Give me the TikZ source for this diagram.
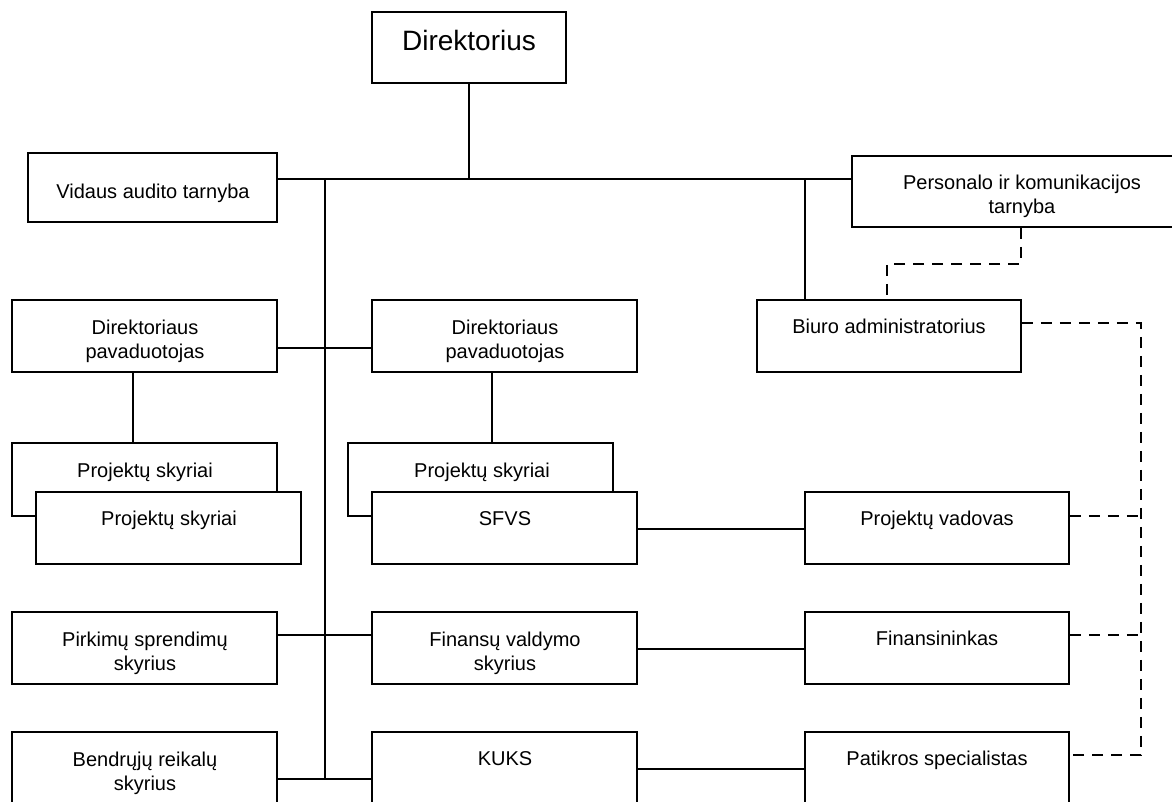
\documentclass[tikz,border=0pt]{standalone}
\usepackage{fontspec}
\setmainfont{Liberation Sans}
\begin{document}
\begin{tikzpicture}[x=1pt,y=-1pt,
  bx/.style={draw=black, line width=1.6pt, fill=white, inner sep=0pt, minimum width=265pt, minimum height=72pt},
  txt/.style={font=\fontsize{20}{24}\selectfont, align=center, inner sep=0pt, text height=14pt, text depth=4pt},
  txtb/.style={font=\fontsize{20}{24}\selectfont, align=center, inner sep=0pt},
  ln/.style={line width=1.6pt},
  dsh/.style={line width=1.6pt, dash pattern=on 11pt off 8pt}]
\useasboundingbox (0,0) rectangle (1172,802);
\clip (0,0) rectangle (1172,802);
% boxes
\node[bx, minimum width=194pt, minimum height=71pt] (dir) at (469,47.5) {};
\node[bx, minimum width=249pt, minimum height=69pt] (vid) at (152.5,187.5) {};
\node[bx, minimum width=340pt, minimum height=71pt] (pers) at (1022,191.5) {};
\node[bx, minimum width=264pt] (biuro) at (889,336) {};
\node[bx] (pavL) at (144.5,336) {};
\node[bx] (pavM) at (504.5,336) {};
\node[bx, minimum height=73pt] (projLb) at (144.5,479.5) {};
\node[bx] (projLf) at (168.5,528) {};
\node[bx, minimum height=73pt] (projMb) at (480.5,479.5) {};
\node[bx] (sfvs) at (504.5,528) {};
\node[bx, minimum width=264pt] (pv) at (937,528) {};
\node[bx] (pirk) at (144.5,648) {};
\node[bx] (finv) at (504.5,648) {};
\node[bx, minimum width=264pt] (fin) at (937,648) {};
\node[bx, minimum height=73pt] (bend) at (144.5,768.5) {};
\node[bx, minimum height=73pt] (kuks) at (504.5,768.5) {};
\node[bx, minimum width=264pt, minimum height=73pt] (pat) at (937,768.5) {};
% texts
\node[txt, font=\fontsize{28}{32}\selectfont, text height=20pt, text depth=6pt] (dir-t) at (469,44) {Direktorius};
\node[txt] (vid-t) at (153,194) {Vidaus audito tarnyba};
\node[txtb] (pers-t) at (1022,196) {Personalo ir komunikacijos\\tarnyba};
\node[txt] (biuro-t) at (889,328) {Biuro administratorius};
\node[txtb] (pavL-t) at (145,341) {Direktoriaus\\pavaduotojas};
\node[txtb] (pavM-t) at (505,341) {Direktoriaus\\pavaduotojas};
\node[txt] (projLb-t) at (145,472) {Projektų skyriai};
\node[txt] (projLf-t) at (169,520) {Projektų skyriai};
\node[txt] (projMb-t) at (482,472) {Projektų skyriai};
\node[txt] (sfvs-t) at (505,520) {SFVS};
\node[txt] (pv-t) at (937,520) {Projektų vadovas};
\node[txtb] (pirk-t) at (145,653) {Pirkimų sprendimų\\skyrius};
\node[txtb] (finv-t) at (505,653) {Finansų valdymo\\skyrius};
\node[txt] (fin-t) at (937,640) {Finansininkas};
\node[txtb] (bend-t) at (145,773) {Bendrųjų reikalų\\skyrius};
\node[txt] (kuks-t) at (505,760) {KUKS};
\node[txt] (pat-t) at (937,760) {Patikros specialistas};
% helper coordinates
\coordinate (trunkTop) at (325,179);
\coordinate (trunkBot) at (325,779);
\coordinate (bj) at (805,179);
\coordinate (busTop) at (1141,323);
\coordinate (busBot) at (1141,755);
% solid connectors
\draw[ln] (vid.east |- 0,179) -- (pers.west |- 0,179);
\draw[ln] (dir.south) -- (dir.south |- trunkTop);
\draw[ln] (trunkTop) -- (trunkBot);
\draw[ln] (bj) -- (bj |- biuro.north);
\draw[ln] (pavL.east |- 0,348) -- (pavM.west |- 0,348);
\draw[ln] (pavL.south -| 133,0) -- (projLb.north -| 133,0);
\draw[ln] (pavM.south -| 492,0) -- (projMb.north -| 492,0);
\draw[ln] (sfvs.east |- 0,529) -- (pv.west |- 0,529);
\draw[ln] (pirk.east |- 0,635) -- (finv.west |- 0,635);
\draw[ln] (finv.east |- 0,649) -- (fin.west |- 0,649);
\draw[ln] (bend.east |- trunkBot) -- (kuks.west |- trunkBot);
\draw[ln] (kuks.east |- 0,769) -- (pat.west |- 0,769);
% dashed connectors
\draw[dsh] (pers.south -| 1021,0) -- (1021,264) -- (887,264) -- (biuro.north -| 887,0);
\draw[dsh] (biuro.east |- busTop) -- (busTop) -- (busBot) -- (pat.east |- busBot);
\draw[dsh] (pv.east |- 0,516) -- (busTop |- 0,516);
\draw[dsh] (fin.east |- 0,635) -- (busTop |- 0,635);
\end{tikzpicture}
\end{document}
